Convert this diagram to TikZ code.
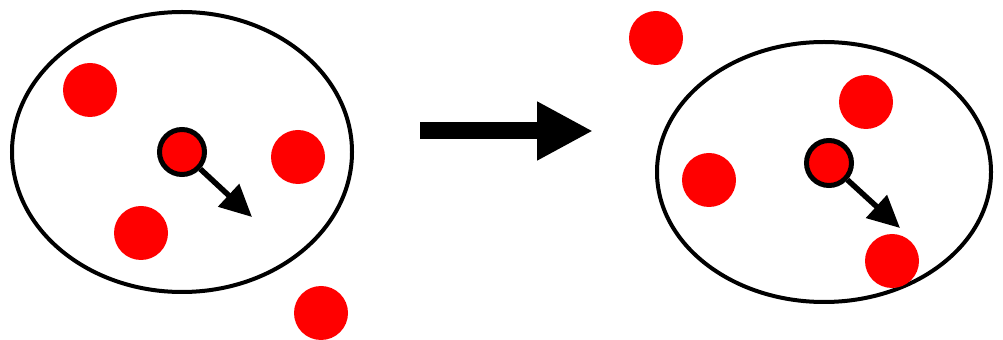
\documentclass[tikz,border=0pt]{standalone}
\usepackage{tikz}
\usepackage{xcolor}
\usetikzlibrary{arrows.meta}

\begin{document}
\begin{tikzpicture}[x=0.2mm,y=-0.2mm,
        cell/.style={line width=0.8mm},
        dot/.style={circle,fill=red,inner sep=0pt,minimum size=10.8mm},
        movdot/.style={circle,fill=red,draw=black,line width=1mm,inner sep=0pt,minimum size=9mm},
        pointer/.style={line width=1.1mm,-{Triangle[length=6.4mm,width=6mm]}},
        bigarrow/.style={line width=3.4mm,-{Triangle[length=11.2mm,width=11mm]}}]
        \useasboundingbox (0,0) rectangle (1003,340);
        \draw[cell] (182,152) ellipse (170 and 140);
        \node[dot] (la) at (90,90) {};
        \node[dot] (lb) at (298,157) {};
        \node[dot] (lc) at (141,233) {};
        \node[dot] (ld) at (321,313) {};
        \node[movdot] (lm) at (182,152) {};
        \coordinate (ltip) at (252,217);
        \draw[pointer] (lm) -- (ltip);
        \coordinate (bigA) at (420,131);
        \coordinate (bigB) at (593,131);
        \draw[bigarrow] (bigA) -- (bigB);
        \draw[cell] (824,172) ellipse (167 and 130);
        \node[dot] (ra) at (656,38) {};
        \node[dot] (rb) at (866,102) {};
        \node[dot] (rc) at (709,180) {};
        \node[dot] (rd) at (892,261) {};
        \node[movdot] (rm) at (829,163) {};
        \coordinate (rtip) at (900,228);
        \draw[pointer] (rm) -- (rtip);
    \end{tikzpicture}
\end{document}
